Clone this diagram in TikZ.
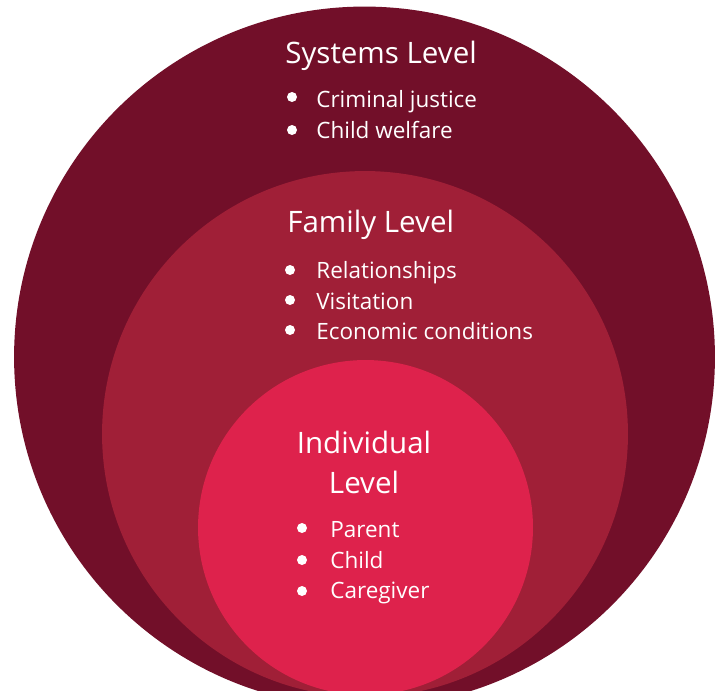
\documentclass[tikz,border=0pt]{standalone}
\usepackage{fontspec}
\setmainfont{Open Sans}
\usepackage{tikz}

\definecolor{SysRed}{RGB}{114,15,41}
\definecolor{FamRed}{RGB}{160,31,55}
\definecolor{IndRed}{RGB}{222,34,76}

\tikzset{
  head/.style={text=white, font=\fontsize{16.8}{22.7}\selectfont, inner sep=0pt},
  item/.style={text=white, font=\fontsize{12.8}{15}\selectfont, inner sep=0pt, anchor=base west}
}

\begin{document}
\begin{tikzpicture}[x=0.02cm,y=-0.02cm]
\useasboundingbox (0,0) rectangle (719,690);
\clip (0,0) rectangle (719,690);
%
\fill[SysRed] (364.5,357) circle[radius=7.01cm];
\fill[FamRed] (365,434) circle[radius=5.26cm];
\fill[IndRed] (365.5,527.5) circle[radius=3.35cm];
%
\node[head, anchor=base west] (syshead) at (285,63) {Systems Level};
\node[item] (crim) at (316,107) {Criminal justice};
\node[item] (welf) at (316,138) {Child welfare};
\foreach \y in {97,130} \fill[white] (292,\y) circle[radius=0.1cm];
%
\node[head, anchor=base west] (famhead) at (287,232) {Family Level};
\node[item] (rel) at (316,278) {Relationships};
\node[item] (visit) at (316,309) {Visitation};
\node[item] (econ) at (316,339) {Economic conditions};
\foreach \y in {270,300,330} \fill[white] (290,\y) circle[radius=0.1cm];
%
\node[head, align=center, anchor=base] (indhead) at (364,493) {Individual\\Level};
\node[item] (par) at (330,537) {Parent};
\node[item] (chld) at (330,568) {Child};
\node[item] (care) at (330,598) {Caregiver};
\foreach \y in {528,560,591} \fill[white] (302,\y) circle[radius=0.1cm];
\end{tikzpicture}
\end{document}
